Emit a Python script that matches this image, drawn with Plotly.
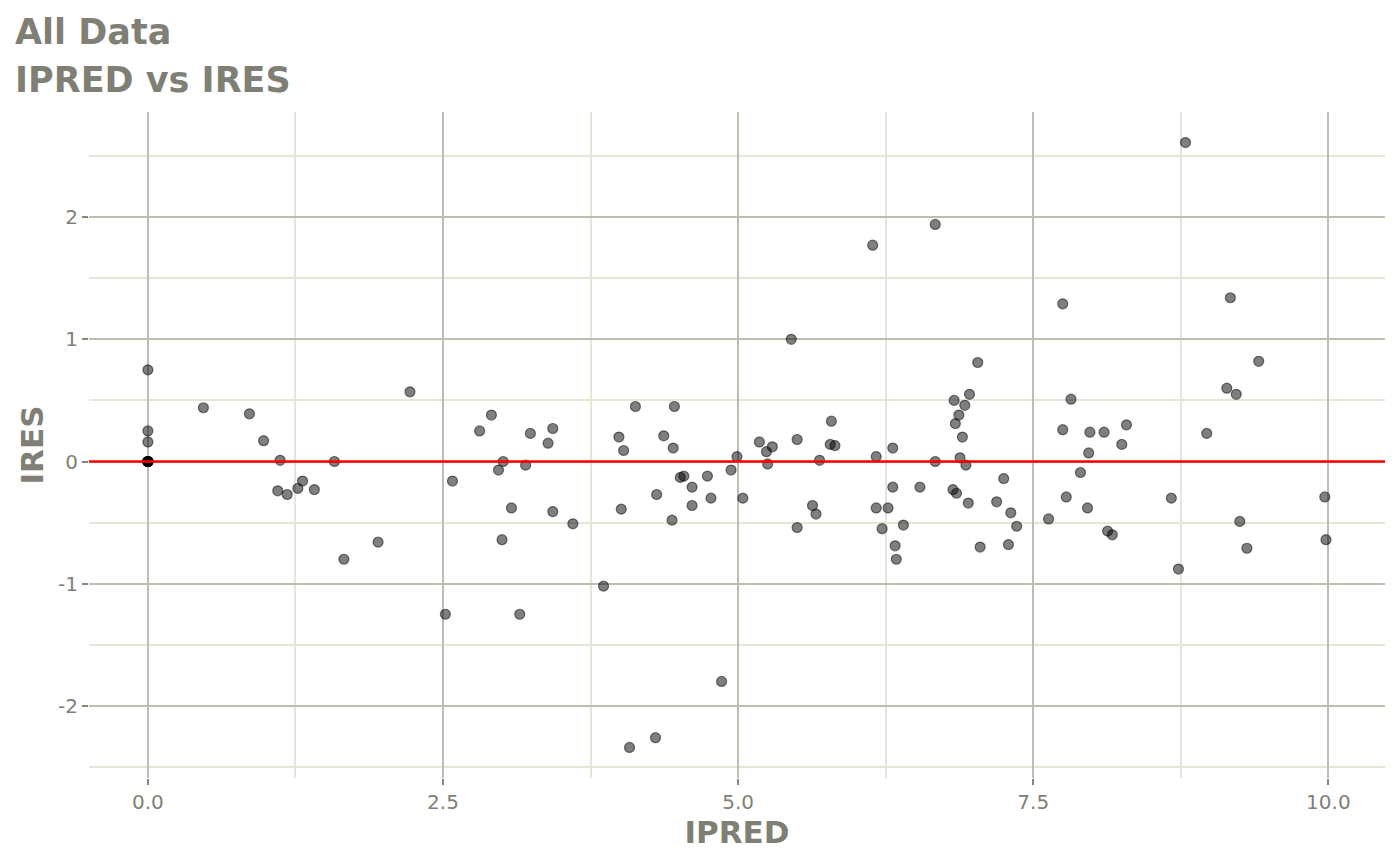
import plotly.graph_objects as go

# IPRED vs IRES
ipred = [0.0, 0.0, 0.0, 0.0, 0.0, 0.0, 0.0, 0.0, 0.0,
         0.47, 0.86, 0.98, 1.12, 1.10, 1.18, 1.27, 1.31, 1.41, 1.58,
         1.66, 1.95, 2.22, 2.52, 2.58, 2.81, 2.91, 2.97, 3.01, 3.00,
         3.08, 3.15, 3.20, 3.24, 3.39, 3.43, 3.43, 3.60, 3.86, 3.99,
         4.03, 4.01, 4.13, 4.08, 4.30, 4.31, 4.37, 4.46, 4.45, 4.44,
         4.51, 4.54, 4.61, 4.61, 4.74, 4.77, 4.86, 4.94, 4.99, 5.04,
         5.18, 5.24, 5.25, 5.29, 5.45, 5.50, 5.50, 5.63, 5.66, 5.69,
         5.79, 5.78, 5.82, 6.14, 6.17, 6.17, 6.22, 6.27, 6.31, 6.31,
         6.33, 6.34, 6.40, 6.54, 6.67, 6.67, 6.83, 6.82, 6.85, 6.84,
         6.87, 6.88, 6.90, 6.92, 6.93, 6.96, 6.95, 7.03, 7.05, 7.19,
         7.25, 7.29, 7.31, 7.36, 7.63, 7.75, 7.75, 7.78, 7.82, 7.90,
         7.96, 7.97, 7.98, 8.10, 8.13, 8.17, 8.25, 8.29, 8.67, 8.73,
         8.79, 8.97, 9.14, 9.17, 9.22, 9.25, 9.31, 9.41, 9.97, 9.98]
ires = [0.75, 0.25, 0.16, 0.0, 0.0, 0.0, 0.0, 0.0, 0.0,
        0.44, 0.39, 0.17, 0.01, -0.24, -0.27, -0.22, -0.16, -0.23, 0.0,
        -0.80, -0.66, 0.57, -1.25, -0.16, 0.25, 0.38, -0.07, 0.0, -0.64,
        -0.38, -1.25, -0.03, 0.23, 0.15, 0.27, -0.41, -0.51, -1.02, 0.20,
        0.09, -0.39, 0.45, -2.34, -2.26, -0.27, 0.21, 0.45, 0.11, -0.48,
        -0.13, -0.12, -0.21, -0.36, -0.12, -0.30, -1.80, -0.07, 0.04, -0.30,
        0.16, 0.08, -0.02, 0.12, 1.00, 0.18, -0.54, -0.36, -0.43, 0.01,
        0.33, 0.14, 0.13, 1.77, 0.04, -0.38, -0.55, -0.38, -0.21, 0.11,
        -0.69, -0.80, -0.52, -0.21, 1.94, 0.0, 0.50, -0.23, -0.26, 0.31,
        0.38, 0.03, 0.20, 0.46, -0.03, 0.55, -0.34, 0.81, -0.70, -0.33,
        -0.14, -0.68, -0.42, -0.53, -0.47, 1.29, 0.26, -0.29, 0.51, -0.09,
        -0.38, 0.07, 0.24, 0.24, -0.57, -0.60, 0.14, 0.30, -0.30, -0.88,
        2.61, 0.23, 0.60, 1.34, 0.55, -0.49, -0.71, 0.82, -0.29, -0.64]
ref_line = 0

x_ticks = [0, 2.5, 5, 7.5, 10]
x_labels = ["0.0", "2.5", "5.0", "7.5", "10.0"]
y_ticks = [-2, -1, 0, 1, 2]
y_labels = ["-2", "-1", "0", "1", "2"]
titles = ["All Data", "IPRED vs IRES"]

grey_text = "#7f7f75"
major = "#bdbdb0"
minor = "#e6e6d8"
font = "DejaVu Sans"

fig = go.Figure()
fig.add_trace(go.Scatter(
    x=ipred, y=ires, mode="markers",
    marker=dict(size=10, color="rgba(0,0,0,0.5)",
                line=dict(color="rgba(0,0,0,0.5)", width=1.2)),
    showlegend=False,
))
fig.add_hline(y=ref_line, line=dict(color="#ff0000", width=2.5), layer="above")

# two-line title as separate annotations (title block sits above the plot)
for i, t in enumerate(titles):
    fig.add_annotation(text="<b>" + t + "</b>", xref="paper", yref="paper",
                       x=-0.0586, y=1.120 - i * 0.072, xanchor="left", yanchor="middle",
                       showarrow=False, font=dict(family=font, size=35, color=grey_text))

# page body has an 8px margin, so margins are trimmed to compensate
fig.update_layout(
    width=1400, height=866,
    paper_bgcolor="white", plot_bgcolor="white",
    margin=dict(l=81, r=23, t=104, b=96),
    font=dict(family=font),
)
fig.update_xaxes(
    range=[-0.499, 10.48], tickvals=x_ticks, ticktext=x_labels, automargin=False,
    showgrid=True, gridcolor=major, gridwidth=1.7, zeroline=False,
    ticks="outside", ticklen=6, tickwidth=1.7, tickcolor="#86867c",
    tickfont=dict(size=20, color=grey_text),
    minor=dict(tickvals=[1.25, 3.75, 6.25, 8.75], showgrid=True,
               gridcolor=minor, gridwidth=1.7, ticks=""),
    title=dict(text="<b>IPRED</b>", font=dict(size=31, color=grey_text), standoff=6),
)
fig.update_yaxes(
    range=[-2.59, 2.86], tickvals=y_ticks, ticktext=y_labels, automargin=False,
    showgrid=True, gridcolor=major, gridwidth=1.7, zeroline=False,
    ticks="outside", ticklen=6, tickwidth=1.7, tickcolor="#86867c",
    tickfont=dict(size=20, color=grey_text),
    minor=dict(tickvals=[-2.5, -1.5, -0.5, 0.5, 1.5, 2.5], showgrid=True,
               gridcolor=minor, gridwidth=1.7, ticks=""),
    title=dict(text="<b>IRES</b>", font=dict(size=31, color=grey_text), standoff=5),
)

fig.write_html("out.html")
